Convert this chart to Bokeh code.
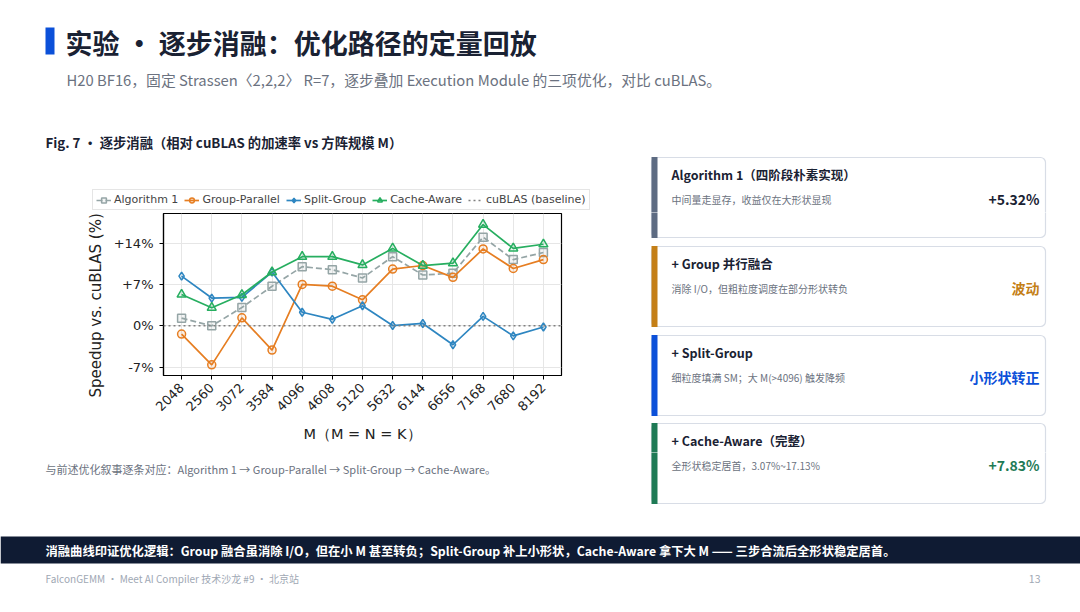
import math
import numpy as np
from bokeh.plotting import figure
from bokeh.layouts import column, row
from bokeh.models import FixedTicker, Span, Legend, LegendItem, Range1d, Title
from bokeh.core.properties import value
from bokeh.embed import file_html
from bokeh.resources import INLINE

# ---------------- data ----------------
M = [2048, 2560, 3072, 3584, 4096, 4608, 5120, 5632, 6144, 6656, 7168, 7680, 8192]
algorithm1 = [1.3, 0.0, 3.1, 6.7, 10.0, 9.5, 8.1, 11.7, 8.6, 8.9, 15.0, 11.2, 12.4]
group_parallel = [-1.4, -6.6, 1.35, -4.1, 7.0, 6.7, 4.4, 9.6, 10.2, 8.2, 13.0, 9.7, 11.2]
split_group = [8.4, 4.7, 4.8, 9.1, 2.3, 1.1, 3.4, 0.05, 0.4, -3.2, 1.6, -1.7, -0.2]
cache_aware = [5.3, 3.07, 5.25, 9.1, 11.7, 11.7, 10.3, 13.1, 10.2, 10.6, 17.13, 13.1, 13.8]
series_names = ["Algorithm 1", "Group-Parallel", "Split-Group", "Cache-Aware", "cuBLAS (baseline)"]
y_ticks = [-7, 0, 7, 14]
y_tick_labels = ["-7%", "0%", "+7%", "+14%"]

title_text = "实验 • 逐步消融：优化路径的定量回放"
subtitle_text = "H20 BF16，固定 Strassen〈2,2,2〉 R=7，逐步叠加 Execution Module 的三项优化，对比 cuBLAS。"
caption_text = "Fig. 7 • 逐步消融（相对 cuBLAS 的加速率 vs 方阵规模 M）"
x_label = "M（M = N = K）"
y_label = "Speedup vs. cuBLAS (%)"
note_text = "与前述优化叙事逐条对应：Algorithm 1 → Group-Parallel → Split-Group → Cache-Aware。"
band_text = "消融曲线印证优化逻辑：Group 融合虽消除 I/O，但在小 M 甚至转负；Split-Group 补上小形状，Cache-Aware 拿下大 M —— 三步合流后全形状稳定居首。"
footer_text = "FalconGEMM · Meet AI Compiler 技术沙龙 #9 · 北京站"
page_number = "13"

card_titles = ["Algorithm 1（四阶段朴素实现）", "+ Group 并行融合", "+ Split-Group", "+ Cache-Aware（完整）"]
card_descs = ["中间量走显存，收益仅在大形状显现", "消除 I/O，但粗粒度调度在部分形状转负",
              "细粒度填满 SM；大 M(>4096) 触发降频", "全形状稳定居首，3.07%~17.13%"]
card_values = ["+5.32%", "波动", "小形状转正", "+7.83%"]

# ---------------- styles ----------------
CJK = "Noto Sans CJK SC"
DARK = "#1a2233"
GRAY_TXT = "#6b7280"
series_colors = ["#95a5a6", "#e67e22", "#2e86c1", "#27ae60", "#808080"]
series_markers = ["square", "circle", "diamond", "triangle"]
series_dash = ["6 3", "solid", "solid", "solid"]
accent_colors = ["#5d6b82", "#c47f17", "#0b50d9", "#1e7a55"]
value_colors = [DARK, "#c47f17", "#0b50d9", "#1e7a55"]
card_tops = [157, 246, 335, 423]


def canvas(x0, y0, w, h):
    f = figure(width=w, height=h, x_range=Range1d(x0, x0 + w), y_range=Range1d(y0 + h, y0),
               output_backend="svg", toolbar_location=None, min_border=0,
               x_axis_location=None, y_axis_location=None)
    f.grid.visible = False
    f.outline_line_color = None
    f.background_fill_color = "white"
    f.border_fill_color = "white"
    return f


def txt(f, x, y, s, size, color, bold=False, align="left", font=CJK):
    f.text(x=[x], y=[y], text=[s], text_font=value(font), text_font_size=size,
           text_font_style="bold" if bold else "normal", text_color=color,
           text_baseline="middle", text_align=align)


def draw_cards(f, y0, y1):
    for i, t in enumerate(card_tops):
        if t + 80 < y0 or t > y1:
            continue
        f.quad(left=[651], right=[1045], top=[t], bottom=[t + 80], fill_color="white",
               line_color="#d8dde6", line_width=1.2, border_radius=5)
        f.quad(left=[651], right=[657], top=[t - 0.5], bottom=[t + 80.5], fill_color=accent_colors[i],
               line_color=None)
        pieces = [(671, t + 17, card_titles[i], "12.5px", DARK, True, "left"),
                  (671, t + 42, card_descs[i], "10px", GRAY_TXT, False, "left"),
                  (1039, t + 41, card_values[i], "14px", value_colors[i], True, "right")]
        for (x, y, s, size, color, bold, align) in pieces:
            if y0 <= y < y1:
                txt(f, x, y, s, size, color, bold=bold, align=align)


def series_glyphs(f, i, xs, ys):
    c = series_colors[i]
    rl = f.line(xs, ys, line_color=c, line_width=1.7, line_dash=series_dash[i])
    rs = f.scatter(xs, ys, marker=series_markers[i], size=8 if i != 3 else 9, line_color=c,
                   fill_color=c, fill_alpha=0.12, line_width=1.5)
    return [rl, rs]


all_series = [algorithm1, group_parallel, split_group, cache_aware]

# ---------------- header (also holds the chart legend) ----------------
top = canvas(0, 0, 1080, 212)
top.quad(left=[45], right=[54], top=[27], bottom=[54], fill_color="#0b50d9", line_color=None)
txt(top, 65, 42, title_text, "27px", DARK, bold=True)
txt(top, 66, 79, subtitle_text, "14.8px", GRAY_TXT)
txt(top, 45, 142, caption_text, "13.3px", DARK, bold=True)
draw_cards(top, 0, 212)

nan = np.array([np.nan])
items = []
for i in range(4):
    items.append(LegendItem(label=series_names[i], renderers=series_glyphs(top, i, nan, nan)))
rb = top.line(x=nan, y=nan, line_color=series_colors[4], line_dash="2 3", line_width=1.5)
items.append(LegendItem(label=series_names[4], renderers=[rb]))
leg = Legend(items=items, orientation="horizontal", location=(92, 2), margin=0,
             label_text_font="DejaVu Sans", label_text_font_size="11px",
             glyph_width=15, glyph_height=12, label_height=12, label_standoff=3,
             spacing=6, padding=3, border_line_color="#cccccc", border_line_width=1,
             background_fill_alpha=0.9)
top.add_layout(leg)

# ---------------- chart ----------------
p = figure(width=640, height=240, x_range=Range1d(1740.8, 8499.2), y_range=Range1d(-8.4, 19.0),
           output_backend="svg", toolbar_location=None,
           min_border_left=163, min_border_right=79, min_border_top=1, min_border_bottom=77)
p.background_fill_color = "white"
p.border_fill_color = "white"
p.outline_line_color = "black"
p.outline_line_width = 1.2

p.add_layout(Span(location=0, dimension="width", line_color=series_colors[4],
                  line_dash="2 3", line_width=1.5))
for i, ys in enumerate(all_series):
    series_glyphs(p, i, M, ys)

p.xaxis.ticker = FixedTicker(ticks=M)
p.xaxis.major_label_orientation = math.pi / 4
p.yaxis.ticker = FixedTicker(ticks=y_ticks)
p.yaxis.major_label_overrides = {t: l for t, l in zip(y_ticks, y_tick_labels)}
p.xaxis.axis_label = x_label
for ax in (p.xaxis, p.yaxis):
    ax.major_label_text_font = "DejaVu Sans"
    ax.major_label_text_font_size = "13px"
    ax.major_label_text_color = "#222222"
    ax.axis_label_text_font_style = "normal"
    ax.axis_label_text_color = "#222222"
    ax.axis_line_color = "black"
    ax.axis_line_width = 1.2
    ax.major_tick_out = 4
    ax.major_tick_in = 0
    ax.minor_tick_line_color = None
p.xaxis.major_label_standoff = 6
p.xaxis.axis_label_standoff = 8
p.xaxis.axis_label_text_font = "DejaVu Sans"
p.xaxis.axis_label_text_font_size = "14.5px"
p.yaxis.major_label_standoff = 6
p.add_layout(Title(text=y_label, align="left", offset=-22, text_font="DejaVu Sans",
                   text_font_size="15px", text_font_style="normal", text_color="#222222",
                   standoff=11), "left")
p.xgrid.grid_line_color = "#e6e6e6"
p.ygrid.grid_line_color = "#e6e6e6"

# ---------------- cards ----------------
cards = canvas(640, 212, 440, 240)
draw_cards(cards, 212, 452)

# ---------------- bottom ----------------
bottom = canvas(0, 452, 1080, 160)
draw_cards(bottom, 452, 612)
txt(bottom, 45, 468, note_text, "11px", GRAY_TXT)
bottom.quad(left=[0], right=[1080], top=[536], bottom=[563], fill_color="#0f1b33", line_color=None)
txt(bottom, 45, 550, band_text, "12.3px", "white", bold=True)
txt(bottom, 45, 578, footer_text, "10px", "#a0a8b4")
txt(bottom, 1040, 578, page_number, "10.5px", "#a0a8b4", align="right")

layout = column(top, row(column(p), column(cards)), bottom)
open("out.html", "w").write(file_html(layout, INLINE, title="消融实验"))
